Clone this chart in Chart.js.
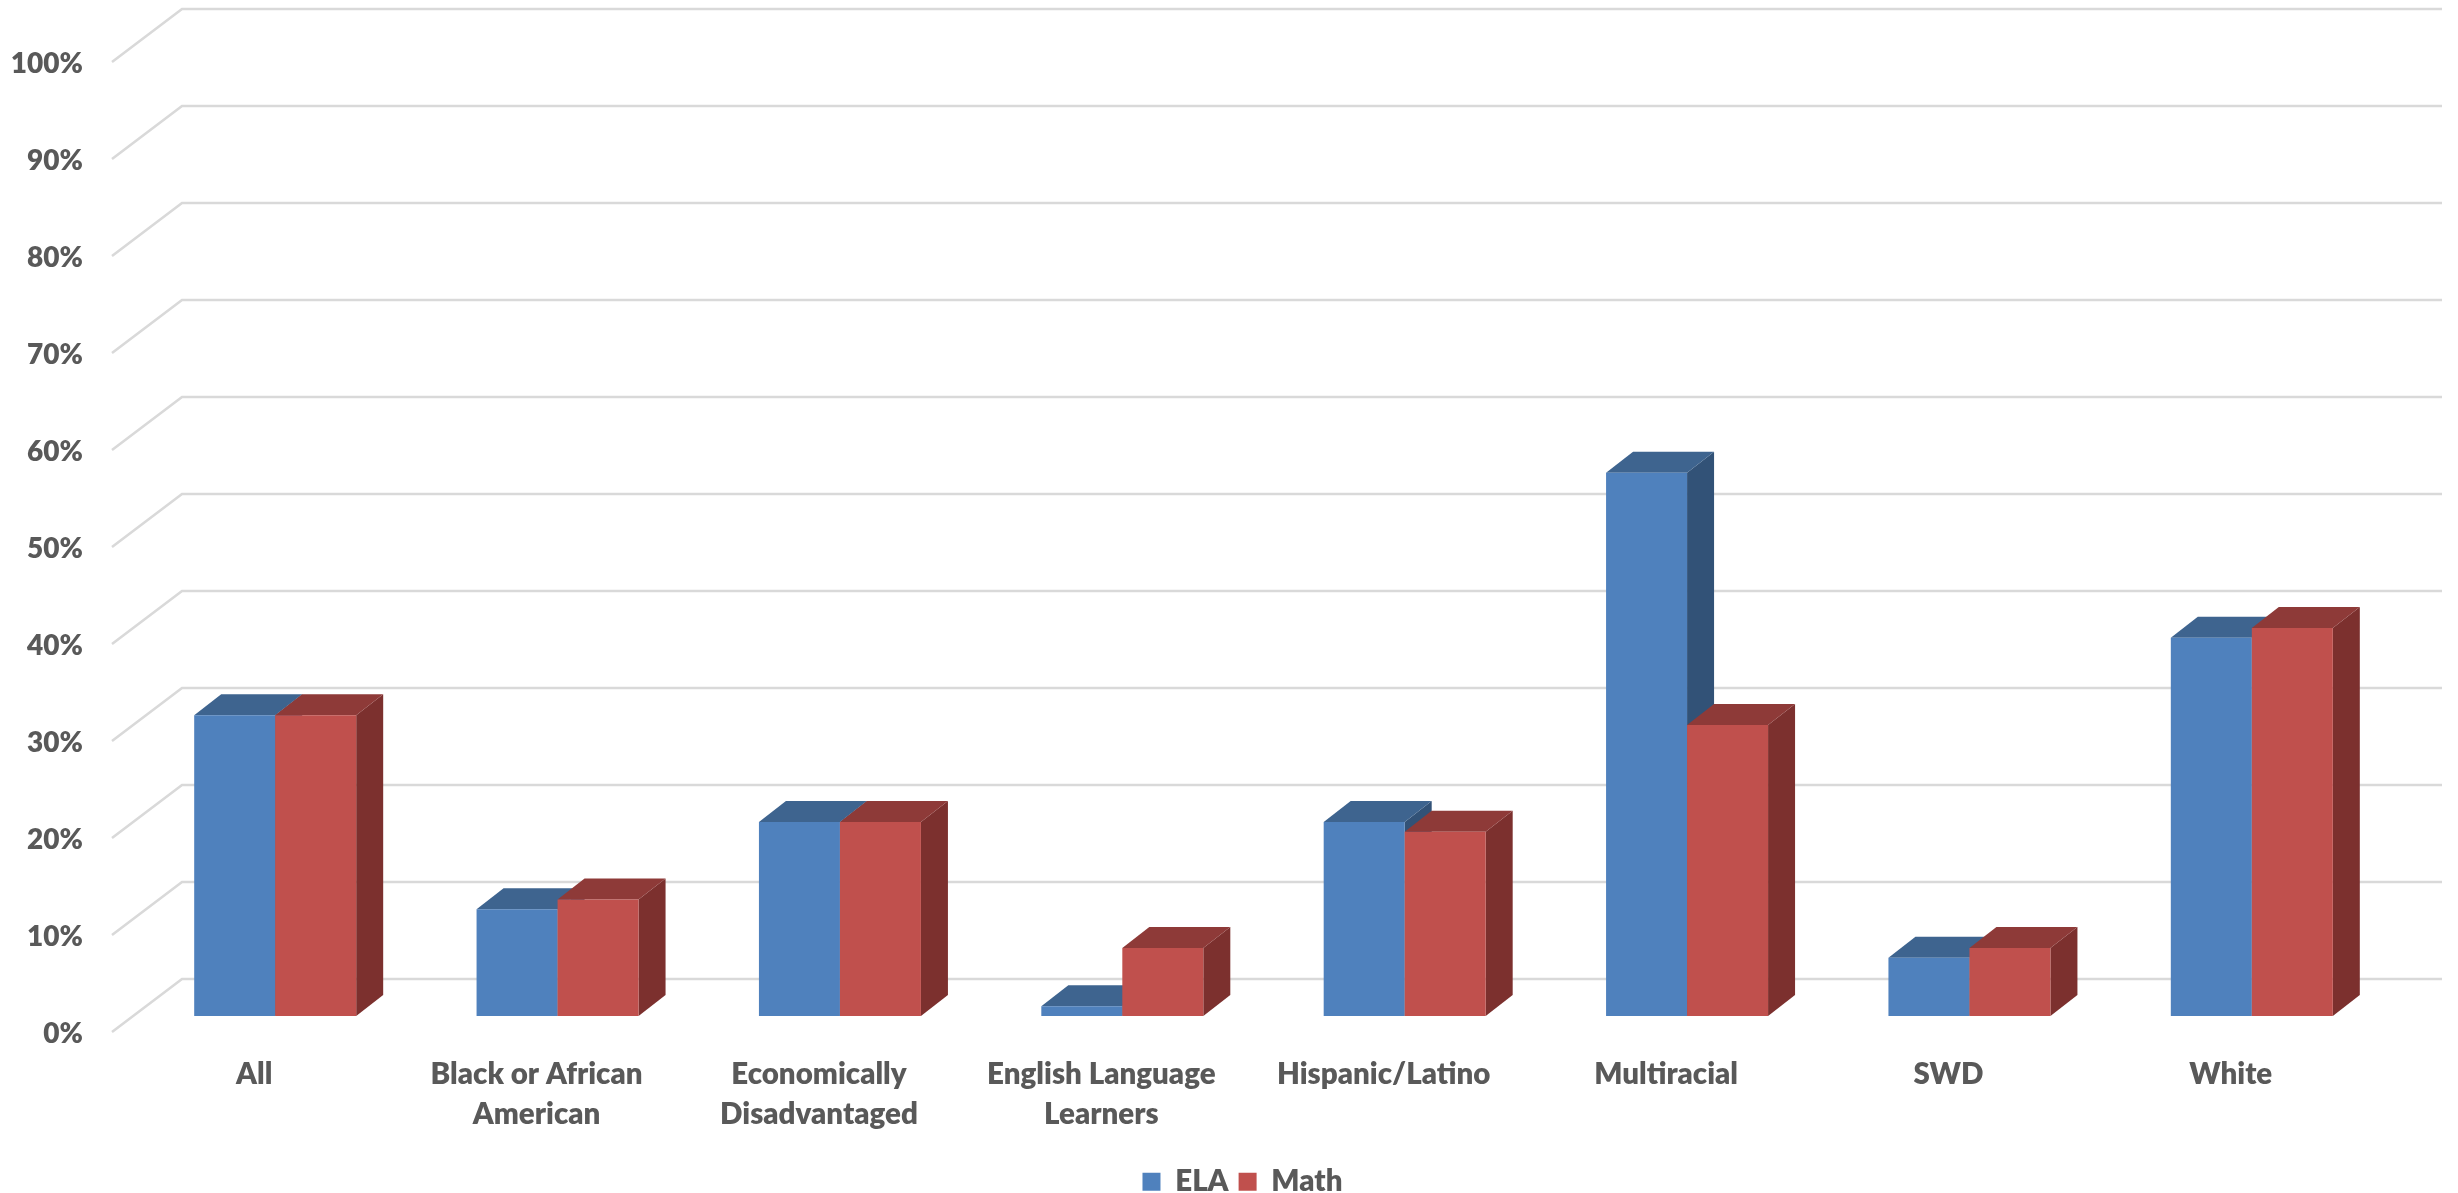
<!DOCTYPE html>
<html>
<head>
<meta charset="utf-8">
<style>html,body{margin:0;padding:0;background:#fff}canvas{display:block}</style>
<script src="https://cdn.jsdelivr.net/npm/chart.js@4"></script>
</head>
<body>
<canvas id="c" width="2458" height="1193"></canvas>
<script>
const categories = ["All", ["Black or African","American"], ["Economically","Disadvantaged"], ["English Language","Learners"], "Hispanic/Latino", "Multiracial", "SWD", "White"];
const elaValues = [31, 11, 20, 1, 20, 56, 6, 39];
const mathValues = [31, 12, 20, 7, 19, 30, 7, 40];
const seriesNames = ["ELA", "Math"];
const yTickStep = 10;
const yMax = 100;

const COL = {ela:"#4F81BD", elaTop:"#3E648F", elaSide:"#325277", math:"#C0504D", mathTop:"#8E3A38", mathSide:"#7C302E", grid:"#D9D9D9", text:"#595959"};
const FONT = {family:"Lato", size:28, weight:"800"};
const FONT_X = {family:"Lato", size:29.5, weight:"800", lineHeight:1.36};
const BAR_DX = 27, BAR_DY = -21;

const depth3d = {
  id:"depth3d",
  beforeDatasetsDraw(chart){
    const {ctx, chartArea:a, scales:{y}} = chart;
    ctx.save();
    ctx.strokeStyle = COL.grid; ctx.lineWidth = 2.6; ctx.lineJoin = "miter";
    y.ticks.forEach(t=>{
      const py = y.getPixelForValue(t.value);
      ctx.beginPath();
      ctx.moveTo(a.left-22, py+16);
      ctx.lineTo(a.left+48, py-37);
      ctx.lineTo(a.right+49, py-37);
      ctx.stroke();
    });
    ctx.restore();
    // paint series in index order so each series' front face covers the previous one's depth faces
    [0,1].forEach(i=>{
      const meta = chart.getDatasetMeta(i);
      const top = i===0 ? COL.elaTop : COL.mathTop;
      const side = i===0 ? COL.elaSide : COL.mathSide;
      meta.data.forEach(b=>{
        const p = b.getProps(["x","y","base","width"], true);
        const l = p.x-p.width/2, r = p.x+p.width/2;
        ctx.fillStyle = side;
        ctx.beginPath();
        ctx.moveTo(r,p.y); ctx.lineTo(r+BAR_DX,p.y+BAR_DY); ctx.lineTo(r+BAR_DX,p.base+BAR_DY); ctx.lineTo(r,p.base);
        ctx.closePath(); ctx.fill();
        ctx.fillStyle = top;
        ctx.beginPath();
        ctx.moveTo(l,p.y); ctx.lineTo(l+BAR_DX,p.y+BAR_DY); ctx.lineTo(r+BAR_DX,p.y+BAR_DY); ctx.lineTo(r,p.y);
        ctx.closePath(); ctx.fill();
      });
      meta.controller.draw();
    });
    return false;
  },
  afterLayout(chart){
    const lg = chart.legend;
    lg.left += 46; lg.right += 46;
    const h = lg.height; lg.top = 1157; lg.bottom = lg.top + h;
  }
};

new Chart(document.getElementById("c"), {
  type:"bar",
  data:{
    labels:categories,
    datasets:[
      {label:seriesNames[0], data:elaValues, backgroundColor:COL.ela},
      {label:seriesNames[1], data:mathValues, backgroundColor:COL.math}
    ]
  },
  plugins:[depth3d],
  options:{
    responsive:false, devicePixelRatio:1, animation:false,
    layout:{padding:{left:0,right:65,top:46,bottom:0}},
    datasets:{bar:{categoryPercentage:0.5737, barPercentage:1, borderWidth:0}},
    plugins:{
      tooltip:{enabled:false},
      title:{display:false},
      legend:{
        position:"bottom",
        labels:{boxWidth:18, boxHeight:18, padding:10, color:COL.text, font:FONT_X}
      }
    },
    scales:{
      x:{
        grid:{display:false}, border:{display:false},
        afterFit(s){ s.height = 177 - s.chart.legend.height; },
        ticks:{color:COL.text, font:FONT_X, maxRotation:0, minRotation:0, autoSkip:false, padding:30, labelOffset:-21}
      },
      y:{
        min:0, max:yMax,
        grid:{display:false, drawTicks:false}, border:{display:false},
        afterFit(s){ s.width = 134; s.paddingTop = 0; s.paddingBottom = 0; },
        ticks:{stepSize:yTickStep, color:COL.text, font:FONT, padding:51, labelOffset:18, callback:v=>v+"%"}
      }
    }
  }
});
</script>
</body>
</html>
